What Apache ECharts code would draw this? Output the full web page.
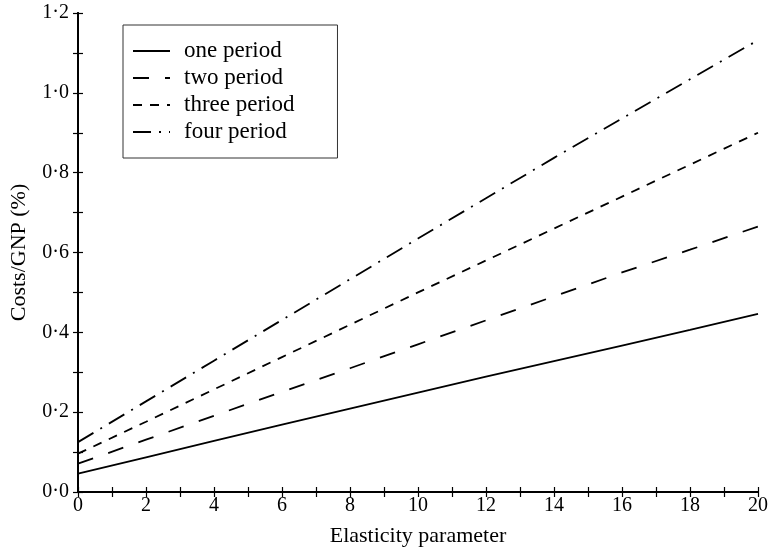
<!DOCTYPE html>
<html>
<head>
<meta charset="utf-8">
<script src="https://cdn.jsdelivr.net/npm/echarts@6/dist/echarts.min.js"></script>
<style>
  html, body { margin: 0; padding: 0; background: #fff; }
  #chart { width: 771px; height: 552px; }
</style>
</head>
<body>
<div id="chart"></div>
<script>
// elasticity parameter values (x)
const elasticity = [0, 2, 4, 6, 8, 10, 12, 14, 16, 18, 20];

// costs / GNP (%)
const onePeriod = [0.046, 0.087, 0.128, 0.169, 0.209, 0.249, 0.289, 0.328, 0.367, 0.406, 0.446];
const twoPeriod = [0.071, 0.131, 0.191, 0.251, 0.310, 0.370, 0.430, 0.490, 0.550, 0.607, 0.665];
const threePeriod = [0.096, 0.176, 0.257, 0.338, 0.419, 0.500, 0.580, 0.660, 0.740, 0.820, 0.900];
const fourPeriod = [0.125, 0.227, 0.329, 0.431, 0.533, 0.635, 0.736, 0.837, 0.936, 1.034, 1.132];

const seriesNames = ['one period', 'two period', 'three period', 'four period'];

const FONT = 'Liberation Serif';

function pairs(ys) {
  return elasticity.map((x, i) => [x, ys[i]]);
}

function lineSeries(name, ys, dash) {
  return {
    name: name,
    type: 'line',
    data: pairs(ys),
    symbol: 'none',
    smooth: false,
    animation: false,
    lineStyle: { color: '#000', width: 1.8, type: dash },
    itemStyle: { color: '#000' },
  };
}

const chart = echarts.init(document.getElementById('chart'));

const axisLine = { show: true, lineStyle: { color: '#000', width: 2 } };
const tick = { show: true, inside: true, length: 5, lineStyle: { color: '#000', width: 1.2 } };

chart.setOption({
  backgroundColor: '#fff',
  textStyle: { fontFamily: FONT, color: '#000' },
  grid: { left: 77, right: 9, top: 13, bottom: 59 },
  legend: {
    orient: 'vertical',
    left: 123,
    top: 25,
    data: seriesNames,
    padding: [14, 43, 14, 9],
    borderColor: '#333',
    borderWidth: 1,
    itemWidth: 37,
    itemHeight: 20,
    itemGap: 3,
    itemStyle: { opacity: 0 },
    textStyle: { fontFamily: FONT, fontSize: 23, lineHeight: 24, color: '#000', padding: [0, 0, 0, 9] },
  },
  xAxis: [
    {
      type: 'value',
      min: 0,
      max: 20,
      interval: 1,
      name: 'Elasticity parameter',
      nameLocation: 'middle',
      nameGap: 33,
      nameTextStyle: { fontFamily: FONT, fontSize: 22, color: '#000' },
      axisLine: axisLine,
      axisTick: tick,
      splitLine: { show: false },
      axisLabel: {
        fontFamily: FONT,
        fontSize: 20,
        color: '#000',
        margin: 4,
        formatter: (v) => (v % 2 === 0 ? String(v) : ''),
      },
    },
    {
      type: 'value',
      position: 'top',
      min: 0,
      max: 20,
      interval: 1,
      axisLine: { show: true, lineStyle: { color: '#000', width: 1.5 } },
      axisTick: tick,
      axisLabel: { show: false },
      splitLine: { show: false },
    },
  ],
  yAxis: [
    {
      type: 'value',
      min: 0,
      max: 1.2,
      interval: 0.1,
      name: 'Costs/GNP (%)',
      nameLocation: 'middle',
      nameGap: 48,
      nameTextStyle: { fontFamily: FONT, fontSize: 22, color: '#000' },
      axisLine: axisLine,
      axisTick: tick,
      splitLine: { show: false },
      axisLabel: {
        fontFamily: FONT,
        fontSize: 20,
        color: '#000',
        margin: 9,
        formatter: (v) => (Math.round(v * 10) % 2 === 0 ? v.toFixed(1).replace('.', '·') : ''),
      },
    },
    {
      type: 'value',
      position: 'right',
      min: 0,
      max: 1.2,
      interval: 0.1,
      axisLine: { show: true, lineStyle: { color: '#000', width: 2 } },
      axisTick: tick,
      axisLabel: { show: false },
      splitLine: { show: false },
    },
  ],
  series: [
    lineSeries(seriesNames[0], onePeriod, 'solid'),
    lineSeries(seriesNames[1], twoPeriod, [16, 16]),
    lineSeries(seriesNames[2], threePeriod, [9, 8]),
    lineSeries(seriesNames[3], fourPeriod, [18, 8, 2, 8]),
  ],
});
</script>
</body>
</html>
